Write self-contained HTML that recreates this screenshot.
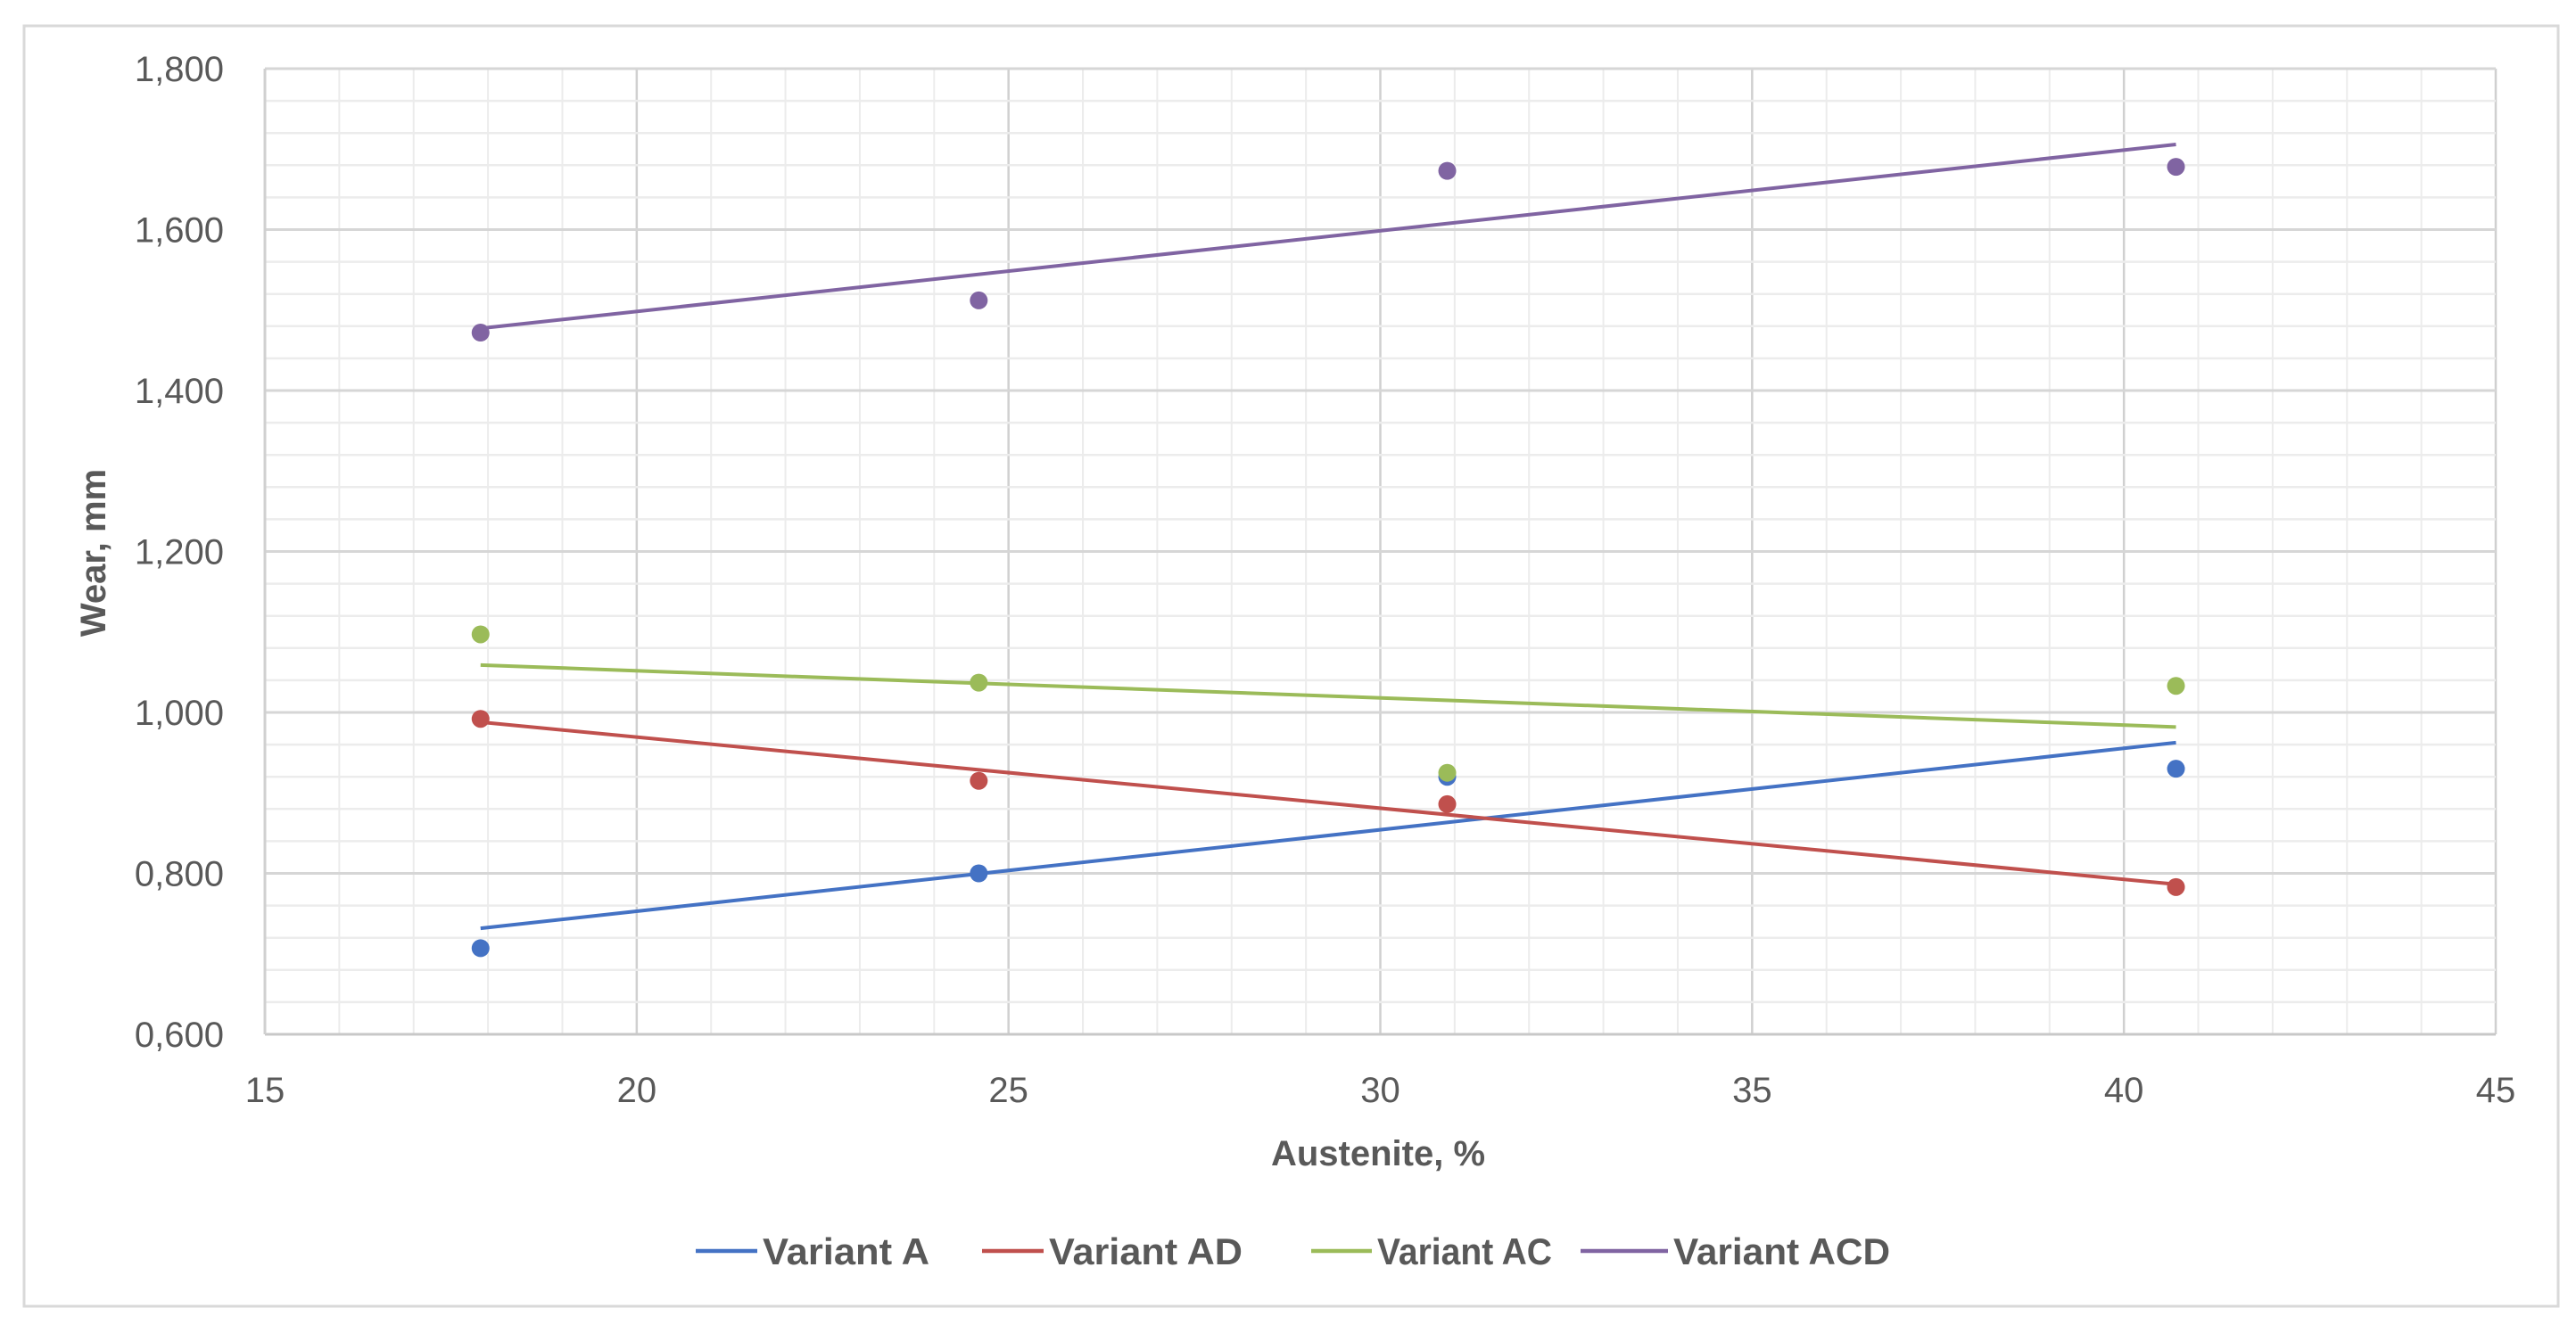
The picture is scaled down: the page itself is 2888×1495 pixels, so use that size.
<!DOCTYPE html>
<html><head><meta charset="utf-8"><style>
html,body{margin:0;padding:0;background:#fff;}
svg{display:block;font-family:"Liberation Sans Narrow","Liberation Sans",sans-serif;}
</style></head><body>
<svg id="chart" width="2888" height="1495" viewBox="0 0 2888 1495" xmlns="http://www.w3.org/2000/svg">
<rect x="27" y="29" width="2841" height="1436" fill="#fff" stroke="#d9d9d9" stroke-width="3"/>
<g id="grid"></g>
<g id="axes"></g>
<g id="series"></g>
<text transform="translate(118,620) rotate(-90)" text-anchor="middle" font-size="40" font-weight="bold" fill="#595959">Wear, mm</text>
<text x="1545" y="1307" text-anchor="middle" font-size="40" font-weight="bold" fill="#595959">Austenite, %</text>
<g id="legend"></g>
</svg>
<script>
const xValues = [17.9, 24.6, 30.9, 40.7];
const seriesNames = ["Variant A", "Variant AD", "Variant AC", "Variant ACD"];
const seriesA = [0.707, 0.800, 0.920, 0.930];
const seriesAD = [0.992, 0.915, 0.886, 0.783];
const seriesAC = [1.097, 1.037, 0.925, 1.033];
const seriesACD = [1.472, 1.512, 1.673, 1.678];
const xTicks = [15, 20, 25, 30, 35, 40, 45];
const yTicks = [0.6, 0.8, 1.0, 1.2, 1.4, 1.6, 1.8];
const yTickLabels = ["0,600", "0,800", "1,000", "1,200", "1,400", "1,600", "1,800"];
const colors = ["#4472c4", "#c0504d", "#9bbb59", "#8064a2"];

const NS = "http://www.w3.org/2000/svg";
const L = 297, R = 2798, T = 77, B = 1160;
const xMin = 15, xMax = 45, yMin = 0.6, yMax = 1.8;
const sx = v => L + (v - xMin) / (xMax - xMin) * (R - L);
const sy = v => B - (v - yMin) / (yMax - yMin) * (B - T);
function mk(tag, attrs, parent) {
  const e = document.createElementNS(NS, tag);
  for (const k in attrs) e.setAttribute(k, attrs[k]);
  parent.appendChild(e);
  return e;
}
const grid = document.getElementById("grid");
for (let v = xMin; v <= xMax + 1e-9; v += 1) {
  const major = Math.abs(v % 5) < 1e-9;
  const ln = mk("line", {x1: sx(v), x2: sx(v), y1: T, y2: B, stroke: major ? "#d0d0d0" : "#ececec", "stroke-width": major ? 2.5 : 2}, grid);
  
  
}
for (let i = 0; i <= 30; i++) {
  const v = yMin + i * 0.04;
  const major = i % 5 === 0;
  const ln = mk("line", {x1: L, x2: R, y1: sy(v), y2: sy(v), stroke: major ? "#d6d6d6" : "#ececec", "stroke-width": major ? 3 : 2.5}, grid);
  
  
}
const axes = document.getElementById("axes");
const xa = mk("line", {x1: L, x2: R, y1: B, y2: B, stroke: "#c8c8c8", "stroke-width": 3}, axes);


const ya = mk("line", {x1: L, x2: L, y1: T, y2: B, stroke: "#d0d0d0", "stroke-width": 3}, axes);


xTicks.forEach(v => {
  const t = mk("text", {x: sx(v), y: B + 76, "text-anchor": "middle", "font-size": 40, fill: "#595959"}, axes);
  t.textContent = v;
  
  
});
yTicks.forEach((v, i) => {
  const t = mk("text", {x: 251, y: sy(v) + 14, "text-anchor": "end", "font-size": 40, fill: "#595959"}, axes);
  t.textContent = yTickLabels[i];
  
  
});
const ser = document.getElementById("series");
[seriesA, seriesAD, seriesAC, seriesACD].forEach((ys, si) => {
  const n = xValues.length;
  const mx = xValues.reduce((a, b) => a + b) / n, my = ys.reduce((a, b) => a + b) / n;
  let sxy = 0, sxx = 0;
  xValues.forEach((x, i) => { sxy += (x - mx) * (ys[i] - my); sxx += (x - mx) * (x - mx); });
  const m = sxy / sxx, c = my - m * mx;
  const x0 = xValues[0], x1 = xValues[n - 1];
  const tl = mk("line", {x1: sx(x0), y1: sy(m * x0 + c), x2: sx(x1), y2: sy(m * x1 + c), stroke: colors[si], "stroke-width": 4}, ser);
  
  
  xValues.forEach((x, i) => {
    const p = mk("circle", {cx: sx(x), cy: sy(ys[i]), r: 10, fill: colors[si]}, ser);
    
    
  });
});
const leg = document.getElementById("legend");
const legLineX = [780, 1101, 1470, 1772];
const legLineW = [69, 69, 68, 98];
const legTextW = [187, 217, 196, 243];
seriesNames.forEach((nm, i) => {
  const g = mk("g", {}, leg);
  
  
  mk("line", {x1: legLineX[i], x2: legLineX[i] + legLineW[i], y1: 1403, y2: 1403, stroke: colors[i], "stroke-width": 4.5}, g);
  const t = mk("text", {x: legLineX[i] + legLineW[i] + 6, y: 1418, "font-size": 42, "font-weight": "bold", fill: "#595959", textLength: legTextW[i], lengthAdjust: "spacingAndGlyphs"}, g);
  t.textContent = nm;
});
</script>
</body></html>
